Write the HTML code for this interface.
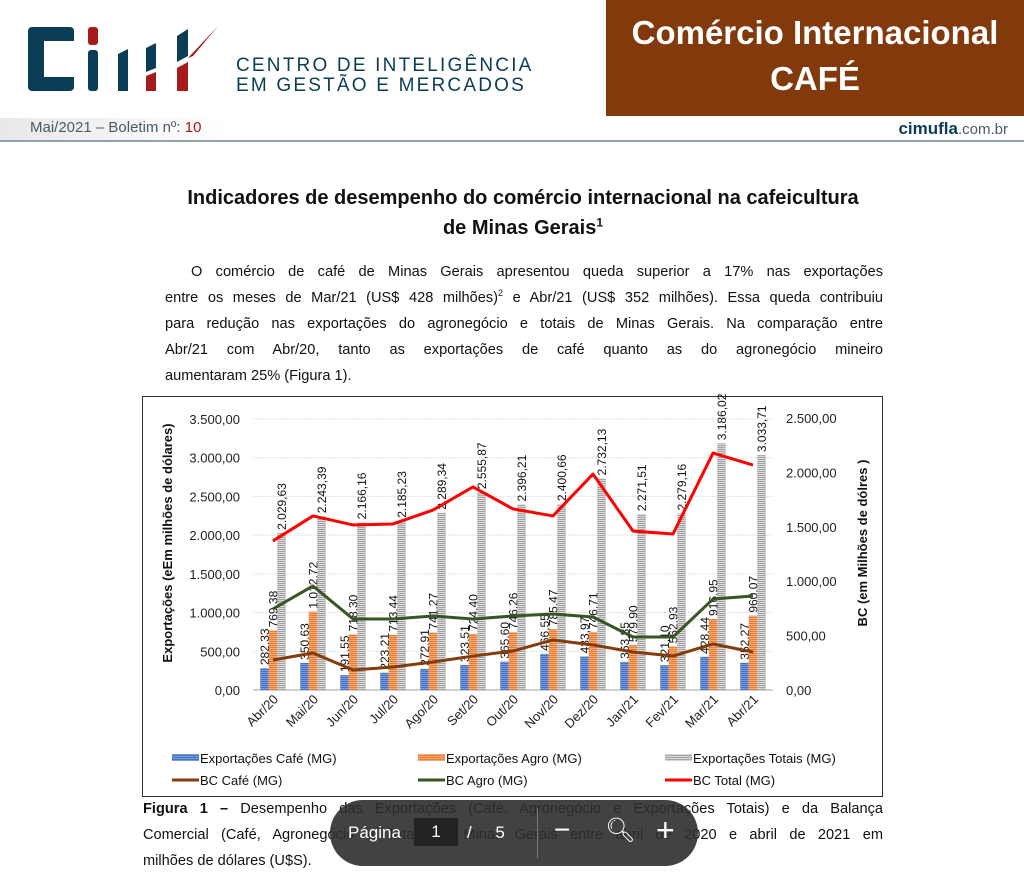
<!DOCTYPE html>
<html><head><meta charset="utf-8">
<style>
body{margin:0;width:1024px;height:866px;overflow:hidden;background:#fff;font-family:"Liberation Sans",sans-serif;position:relative}
.abs{position:absolute}
.jl{text-align:justify;text-align-last:justify;height:26px;overflow:hidden}
.ll{height:26px}
</style></head><body>
<div class="abs" style="left:28px;top:26px;width:190px;height:66px">
<svg width="190" height="66">
<rect x="0" y="1" width="46" height="64" rx="4" fill="#0b3d56"/><rect x="16" y="15" width="30" height="36" fill="#fff"/>
<rect x="60" y="1" width="10" height="18" rx="3" fill="#a51a1a"/><rect x="60" y="24" width="10" height="41" rx="3" fill="#0b3d56"/>
<polygon points="90,28 100,23 100,65 90,65" fill="#0b3d56"/><polygon points="118,22 128,17 128,42 118,46" fill="#0b3d56"/><polygon points="118,50 128,46 128,65 118,65" fill="#a51a1a"/>
<polygon points="149,10 160,3 160,30 149,36" fill="#0b3d56"/><polygon points="149,42 160,36 160,65 149,65" fill="#a51a1a"/><polygon points="160,32 190,0 165,30" fill="#a51a1a"/>
</svg></div>
<div class="abs" style="left:236px;top:56px;color:#0b3d56;font-size:19px;line-height:20px;letter-spacing:2.2px">CENTRO DE INTELIGÊNCIA<br>EM GESTÃO E MERCADOS</div>
<div class="abs" style="left:606px;top:0;width:418px;height:116px;background:#82390c;color:#fff;font-weight:bold;font-size:33px;text-align:center;line-height:46px;padding-top:10px;box-sizing:border-box">Comércio Internacional<br>CAFÉ</div>
<div class="abs" style="left:0;top:118px;width:230px;height:22px;background:linear-gradient(90deg,#e8e8e8,#fff)"></div>
<div class="abs" style="left:30px;top:119px;font-size:15px;color:#4a5a66">Mai/2021 – Boletim nº: <span style="color:#b01515">10</span></div>
<div class="abs" style="right:16px;top:119px;font-size:17px;color:#0b3d56"><b>cimufla</b><span style="font-size:15px;color:#4a5a66">.com.br</span></div>
<div class="abs" style="left:0;top:140px;width:1024px;height:2px;background:#8fa3ad"></div>
<div class="abs" style="left:140px;width:766px;top:183px;text-align:center;font-weight:bold;font-size:20px;line-height:30px;color:#111">Indicadores de desempenho do comércio internacional na cafeicultura<br>de Minas Gerais<sup style="font-size:12px;line-height:0">1</sup></div>
<div class="abs" style="left:165px;width:718px;top:259px;font-size:14.6px;line-height:26px;color:#111">
<div class="jl" style="padding-left:26px">O comércio de café de Minas Gerais apresentou queda superior a 17% nas exportações</div>
<div class="jl">entre os meses de Mar/21 (US$ 428 milhões)<sup style="font-size:9px;line-height:0">2</sup> e Abr/21 (US$ 352 milhões). Essa queda contribuiu</div>
<div class="jl">para redução nas exportações do agronegócio e totais de Minas Gerais. Na comparação entre</div>
<div class="jl">Abr/21 com Abr/20, tanto as exportações de café quanto as do agronegócio mineiro</div>
<div class="ll">aumentaram 25% (Figura 1).</div>
</div>
<div class="abs" style="left:142px;top:396px;width:739px;height:399px;border:1.5px solid #333"></div>
<svg class="abs" id="chart" style="left:0;top:0" width="1024" height="866" font-family="Liberation Sans, sans-serif">
<defs>
<pattern id="pb" width="4" height="2" patternUnits="userSpaceOnUse"><rect width="4" height="2" fill="#4472c4"/><rect width="4" height="1" fill="#7a9ad8"/></pattern>
<pattern id="po" width="4" height="2" patternUnits="userSpaceOnUse"><rect width="4" height="2" fill="#ed7d31"/><rect width="4" height="1" fill="#f4a978"/></pattern>
<pattern id="pg" width="4" height="2" patternUnits="userSpaceOnUse"><rect width="4" height="2" fill="#a5a5a5"/><rect width="4" height="1" fill="#d6d6d6"/></pattern>
</defs>
<g id="g"></g>
</svg>
<div class="abs" style="left:143px;width:740px;top:796px;font-size:14.6px;line-height:26px;color:#111">
<div class="jl"><b>Figura 1 –</b> Desempenho das Exportações (Café, Agronegócio e Exportações Totais) e da Balança</div>
<div class="jl">Comercial (Café, Agronegócio e Total) de Minas Gerais entre abril de 2020 e abril de 2021 em</div>
<div class="ll">milhões de dólares (U$S).</div>
</div>
<div class="abs" style="left:330px;top:800px;width:368px;height:66px;border-radius:33px;background:rgba(45,45,45,0.9);color:#fff;font-size:17px">
<span class="abs" style="left:18px;top:23px">Página</span>
<span class="abs" style="left:84px;top:18px;width:44px;height:28px;background:#222;text-align:center;line-height:28px">1</span>
<span class="abs" style="left:137px;top:23px">/&nbsp;&nbsp;&nbsp;&nbsp;&nbsp;5</span>
<div class="abs" style="left:207px;top:8px;width:1px;height:50px;background:#777"></div>
<span class="abs" style="left:224px;top:14px;font-size:28px">−</span>
<span class="abs" style="left:275px;top:16px;font-size:24px">&#x1F50D;&#xFE0E;</span>
<span class="abs" style="left:326px;top:12px;font-size:32px">+</span>
</div>
<script>
const categories=["Abr/20","Mai/20","Jun/20","Jul/20","Ago/20","Set/20","Out/20","Nov/20","Dez/20","Jan/21","Fev/21","Mar/21","Abr/21"];
const expCafe=[282.33,350.63,191.55,223.21,272.91,323.51,365.60,466.55,433.97,363.85,321.10,428.44,352.27];
const expAgro=[769.38,1012.72,718.30,713.44,741.27,724.40,746.26,785.47,746.71,579.90,562.93,916.95,960.07];
const expTotal=[2029.63,2243.39,2166.16,2185.23,2289.34,2555.87,2396.21,2400.66,2732.13,2271.51,2279.16,3186.02,3033.71];
const bcCafe=[276,340,184,211,257,312,358,460,414,349,312,423,349];
const bcAgro=[745,956,653,653,680,653,680,698,671,487,487,836,864];
const bcTotal=[1370,1600,1517,1526,1654,1866,1664,1600,1985,1461,1434,2178,2068];
const leftTicks=[0,500,1000,1500,2000,2500,3000,3500];
const rightTicks=[0,500,1000,1500,2000,2500];
const NS="http://www.w3.org/2000/svg",G=document.getElementById('g');
const X0=253,BW=40,Y0=690,YT=419;
const yL=v=>Y0-(v/3500)*(Y0-YT);
const yR=v=>Y0-(v/2500)*(Y0-418);
const xC=i=>X0+BW*i+20;
const fmt=v=>{let s=v.toFixed(2).split('.');return s[0].replace(/\B(?=(\d{3})+(?!\d))/g,'.')+','+s[1];};
function mk(t,a,txt){const e=document.createElementNS(NS,t);for(const k in a)e.setAttribute(k,a[k]);if(txt!=null)e.textContent=txt;G.appendChild(e);return e;}
leftTicks.forEach(v=>{
 const l=mk('line',{x1:X0,x2:X0+BW*13,y1:yL(v),y2:yL(v),stroke:v?'#e0e0e0':'#d0d0d0','stroke-width':v?1:2,'stroke-dasharray':v?'2,1':''});
 
 
 const t=mk('text',{x:240,y:yL(v)+5,'text-anchor':'end','font-size':13,fill:'#222'},fmt(v));
 
 
});
rightTicks.forEach(v=>{
 const t=mk('text',{x:786,y:yR(v)+5,'font-size':13,fill:'#222'},fmt(v));
 
 
});
let t=mk('text',{transform:'translate(172,543) rotate(-90)','text-anchor':'middle','font-size':13,'font-weight':'bold',fill:'#111'},'Exportações (eEm milhões de dólares)');


t=mk('text',{transform:'translate(867,543) rotate(-90)','text-anchor':'middle','font-size':13,'font-weight':'bold',fill:'#111'},'BC (em Milhões de dólres )');


const series=[[expCafe,'url(#pb)',-8.5],[expAgro,'url(#po)',0],[expTotal,'url(#pg)',8.5]];
categories.forEach((c,i)=>{
 series.forEach(([arr,fill,off])=>{
  const x=xC(i)+off-4.25,y=yL(arr[i]);
  const r=mk('rect',{x:x,y:y,width:8.5,height:Y0-y,fill:fill});
  
  
  const lb=mk('text',{transform:`translate(${x+8.8},${y-3}) rotate(-90)`,'font-size':12,fill:'#111'},fmt(arr[i]));
  
  
 });
 const xl=mk('text',{transform:`translate(${xC(i)+6},${700}) rotate(-45)`,'text-anchor':'end','font-size':13,fill:'#222'},c);
 
 
});
[[bcCafe,'#843c0c','bc-cafe-line'],[bcAgro,'#375623','bc-agro-line'],[bcTotal,'#ff0000','bc-total-line']].forEach(([arr,col,n])=>{
 const p=mk('polyline',{points:arr.map((v,i)=>xC(i)+','+yR(v)).join(' '),fill:'none',stroke:col,'stroke-width':3,'stroke-linejoin':'round'});
 
 
});
const leg=[['Exportações Café (MG)','url(#pb)',172,760,'r'],['Exportações Agro (MG)','url(#po)',418,760,'r'],['Exportações Totais (MG)','url(#pg)',665,760,'r'],['BC Café (MG)','#843c0c',172,782,'l'],['BC Agro (MG)','#375623',418,782,'l'],['BC Total (MG)','#ff0000',665,782,'l']];
leg.forEach(([lab,col,x,y,k])=>{
 let s=k=='r'?mk('rect',{x:x,y:y-6,width:27,height:7,fill:col}):mk('line',{x1:x,x2:x+27,y1:y-2,y2:y-2,stroke:col,'stroke-width':3});
 
 
 const tt=mk('text',{x:x+28,y:y+3,'font-size':13,fill:'#111'},lab);
 
 
});
</script>
</body></html>
